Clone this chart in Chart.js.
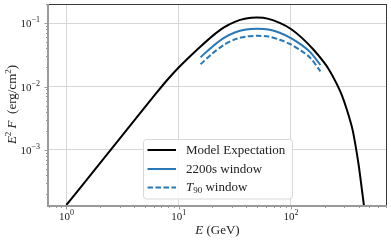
<!DOCTYPE html>
<html>
<head>
<meta charset="utf-8">
<script src="https://cdn.jsdelivr.net/npm/chart.js@4/dist/chart.umd.min.js"></script>
<style>
html,body{margin:0;padding:0;background:#fff;}
#wrap{width:391px;height:242px;}
</style>
</head>
<body>
<div id="wrap"><canvas id="c" width="391" height="242"></canvas></div>
<script>
// ---- data ----
const energyModel = [1, 1.585, 2.512, 3.981, 6.31, 7.943, 10, 12.59, 15.85, 19.95, 25.12, 31.62, 39.81, 50.12, 63.1, 79.43, 100, 125.9, 158.5, 199.5, 223.9, 251.2, 281.8, 316.2, 354.8, 398.1, 426.6, 451.9, 478.6];
const fluxModel   = [1.337e-4, 3.698e-4, 1.023e-3, 2.831e-3, 7.834e-3, 0.01279, 0.01995, 0.02985, 0.04375, 0.06266, 0.08511, 0.1054, 0.1186, 0.1230, 0.1175, 0.1012, 0.08128, 0.05821, 0.03846, 0.02344, 0.01718, 0.01175, 7.586e-3, 4.217e-3, 2.042e-3, 6.31e-4, 2.512e-4, 1.122e-4, 4.467e-5];
const energyWindow = [15.67, 19.95, 25.12, 31.62, 39.81, 50.12, 63.1, 79.43, 100, 125.9, 149.3, 183.2];
const flux2200s    = [0.02904, 0.04266, 0.05821, 0.07161, 0.07943, 0.08166, 0.07943, 0.07079, 0.05821, 0.04467, 0.03467, 0.02188];
const fluxT90      = [0.02249, 0.03311, 0.04519, 0.05559, 0.06166, 0.06339, 0.06166, 0.05495, 0.04624, 0.03589, 0.02818, 0.01738];
const xTickValues = [1, 10, 100];
const xTickExps   = ['0', '1', '2'];
const yTickValues = [1e-3, 1e-2, 1e-1];
const yTickExps   = ['\u22123', '\u22122', '\u22121'];
const seriesLabels = ['Model Expectation', '2200s window', 'T90 window'];

const SERIF = '"Liberation Serif", "DejaVu Serif", serif';
const toPts = (xs, ys) => xs.map((x, i) => ({x: x, y: ys[i]}));

function richWidth(ctx, segs){
  let w = 0;
  for (const s of segs){ ctx.font = s.font; w += ctx.measureText(s.t).width; }
  return w;
}
function drawRich(ctx, segs, x, y, align){
  const w = richWidth(ctx, segs);
  let cx = align === 'center' ? x - w/2 : (align === 'right' ? x - w : x);
  for (const s of segs){
    ctx.font = s.font;
    ctx.textAlign = 'left';
    ctx.fillText(s.t, cx, y + (s.dy || 0));
    cx += ctx.measureText(s.t).width;
  }
}

const overlay = {
  id: 'overlay',
  afterDraw(chart){
    const ctx = chart.ctx, a = chart.chartArea, xs = chart.scales.x, ys = chart.scales.y;
    ctx.save();
    // minor/major ticks
    ctx.strokeStyle = '#808080'; ctx.lineWidth = 0.8;
    for (let d = 1e-5; d < 10; d *= 10){
      for (let m = 1; m < 10; m++){
        const v = d*m;
        if (v < ys.min || v > ys.max) continue;
        const py = Math.round(ys.getPixelForValue(v)) + 0.5;
        const len = m === 1 ? 3.5 : 2;
        ctx.beginPath(); ctx.moveTo(a.left - 1 - len, py); ctx.lineTo(a.left - 1, py); ctx.stroke();
      }
    }
    for (let d = 0.1; d < 10000; d *= 10){
      for (let m = 1; m < 10; m++){
        const v = d*m;
        if (v < xs.min || v > xs.max) continue;
        const px = Math.round(xs.getPixelForValue(v)) + 0.5;
        const len = m === 1 ? 3.5 : 2;
        ctx.beginPath(); ctx.moveTo(px, a.bottom + 1); ctx.lineTo(px, a.bottom + 1 + len); ctx.stroke();
      }
    }
    // spines
    ctx.strokeStyle = '#3a3a3a'; ctx.lineWidth = 1;
    ctx.beginPath(); ctx.moveTo(a.left, a.top + 0.5); ctx.lineTo(a.right + 1, a.top + 0.5); ctx.stroke();
    ctx.beginPath(); ctx.moveTo(a.right + 0.5, a.top); ctx.lineTo(a.right + 0.5, a.bottom + 1); ctx.stroke();
    ctx.strokeStyle = '#9a9a9a'; ctx.lineWidth = 2;
    ctx.beginPath(); ctx.moveTo(a.left - 1, a.top); ctx.lineTo(a.left - 1, a.bottom + 2); ctx.stroke();
    ctx.beginPath(); ctx.moveTo(a.left - 2, a.bottom + 1); ctx.lineTo(a.right + 1, a.bottom + 1); ctx.stroke();

    // tick labels
    ctx.fillStyle = '#222'; ctx.textBaseline = 'alphabetic';
    const fBase = '11px ' + SERIF, fExp = '8px ' + SERIF;
    xTickValues.forEach((v, i) => {
      const px = xs.getPixelForValue(v);
      drawRich(ctx, [{t:'10', font:fBase}, {t:xTickExps[i], font:fExp, dy:-5}], px, 220, 'center');
    });
    yTickValues.forEach((v, i) => {
      const py = ys.getPixelForValue(v);
      drawRich(ctx, [{t:'10', font:fBase}, {t:yTickExps[i], font:fExp, dy:-5}], 40, py + 4, 'right');
    });

    // axis titles
    const fT = '13px ' + SERIF, fTi = 'italic 13px ' + SERIF, fTs = '9px ' + SERIF;
    drawRich(ctx, [{t:'E', font:fTi}, {t:' (GeV)', font:fT}], (a.left + a.right)/2, 234, 'center');
    ctx.save();
    ctx.translate(16, (a.top + a.bottom)/2);
    ctx.rotate(-Math.PI/2);
    drawRich(ctx, [{t:'E', font:fTi}, {t:'2', font:fTs, dy:-5}, {t:' ', font:fT}, {t:'F', font:fTi},
                   {t:'  (erg/cm', font:fT}, {t:'2', font:fTs, dy:-5}, {t:')', font:fT}], 0, 0, 'center');
    ctx.restore();

    // legend
    const lx = 143.5, ly = 139.5, lw = 149, lh = 59.5, r = 3;
    ctx.fillStyle = 'rgba(255,255,255,0.85)';
    ctx.strokeStyle = '#d8d8d8'; ctx.lineWidth = 1;
    ctx.beginPath();
    ctx.moveTo(lx + r, ly); ctx.lineTo(lx + lw - r, ly); ctx.arcTo(lx + lw, ly, lx + lw, ly + r, r);
    ctx.lineTo(lx + lw, ly + lh - r); ctx.arcTo(lx + lw, ly + lh, lx + lw - r, ly + lh, r);
    ctx.lineTo(lx + r, ly + lh); ctx.arcTo(lx, ly + lh, lx, ly + lh - r, r);
    ctx.lineTo(lx, ly + r); ctx.arcTo(lx, ly, lx + r, ly, r);
    ctx.closePath(); ctx.fill(); ctx.stroke();
    const rows = [150, 169, 187.5];
    chart.data.datasets.forEach((ds, i) => {
      ctx.strokeStyle = ds.borderColor; ctx.lineWidth = ds.borderWidth;
      ctx.setLineDash(ds.borderDash || []);
      ctx.beginPath(); ctx.moveTo(147.5, rows[i]); ctx.lineTo(176, rows[i]); ctx.stroke();
      ctx.setLineDash([]);
    });
    ctx.fillStyle = '#222'; ctx.textBaseline = 'middle';
    const fL = '13px ' + SERIF, fLi = 'italic 13px ' + SERIF, fLs = '9px ' + SERIF;
    drawRich(ctx, [{t:seriesLabels[0], font:fL}], 186, rows[0] + 0.5, 'left');
    drawRich(ctx, [{t:seriesLabels[1], font:fL}], 186, rows[1] + 0.5, 'left');
    drawRich(ctx, [{t:'T', font:fLi}, {t:'90', font:fLs, dy:3}, {t:' window', font:fL}], 186, rows[2] + 0.5, 'left');
    ctx.restore();
  }
};

new Chart(document.getElementById('c'), {
  type: 'line',
  data: {
    datasets: [
      {label: seriesLabels[0], data: toPts(energyModel, fluxModel), borderColor: '#000000', borderWidth: 2, pointRadius: 0, tension: 0.3, fill: false},
      {label: seriesLabels[1], data: toPts(energyWindow, flux2200s), borderColor: '#2878b8', borderWidth: 2, pointRadius: 0, tension: 0.3, fill: false},
      {label: seriesLabels[2], data: toPts(energyWindow, fluxT90), borderColor: '#2878b8', borderWidth: 2, borderDash: [5.5, 2.5], pointRadius: 0, tension: 0.3, fill: false}
    ]
  },
  options: {
    responsive: false,
    animation: false,
    devicePixelRatio: 1,
    layout: {padding: {left: 0, top: 4, right: 5, bottom: 0}},
    plugins: {legend: {display: false}, tooltip: {enabled: false}},
    scales: {
      x: {
        type: 'logarithmic', min: 0.737, max: 703,
        afterBuildTicks: s => { s.ticks = xTickValues.map(v => ({value: v})); },
        afterFit: s => { s.height = 37; },
        ticks: {display: false},
        grid: {color: '#d6d6d6', lineWidth: 1, drawTicks: false},
        border: {display: false}
      },
      y: {
        type: 'logarithmic', min: 1.336e-4, max: 0.2018,
        afterBuildTicks: s => { s.ticks = yTickValues.map(v => ({value: v})); },
        afterFit: s => { s.width = 49; },
        ticks: {display: false},
        grid: {color: '#d6d6d6', lineWidth: 1, drawTicks: false},
        border: {display: false}
      }
    }
  },
  plugins: [overlay]
});
</script>
</body>
</html>
